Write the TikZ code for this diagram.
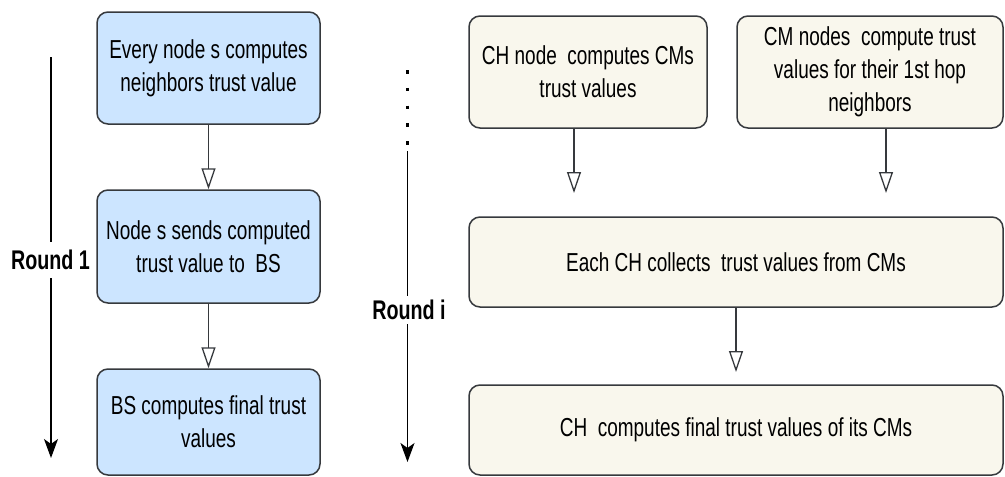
\documentclass[tikz,border=0pt]{standalone}
\usepackage{fontspec}
\setmainfont{Liberation Sans}[FakeStretch=0.73]
\usetikzlibrary{arrows.meta}
\definecolor{bluefill}{HTML}{CCE5FF}
\definecolor{creamfill}{HTML}{F9F7ED}
\definecolor{edgegray}{HTML}{36393D}
\begin{document}
\begin{tikzpicture}[x=1pt,y=-1pt,
  txt/.style={font=\fontsize{26}{33}\selectfont, align=center, text=black},
  lbox/.style={txt, draw=edgegray, line width=1.5pt, fill=bluefill, rounded corners=11pt, inner sep=0pt, minimum width=223pt},
  rbox/.style={lbox, fill=creamfill},
  conn/.style={draw=edgegray, line width=1.3pt, -{Triangle[open, length=21pt, width=14pt]}},
  roundarr/.style={draw=black, line width=1.3pt, -{Stealth[length=19pt, width=14pt, inset=5pt]}},
  roundlbl/.style={font=\fontsize{27}{33}\selectfont\bfseries, fill=white, inner xsep=1pt}
]
\useasboundingbox (0,0) rectangle (1005,477);

% left column
\node[lbox, minimum height=112pt] (l1) at (208.5,68) {Every node s computes\\neighbors trust value};
\node[lbox, minimum height=113pt] (l2) at (208.5,246.5) {Node s sends computed\\trust value to~~BS};
\node[lbox, minimum height=106pt] (l3) at (208.5,422) {BS computes final trust\\values};
\draw[conn] (l1.south) -- (l2.north);
\draw[conn] (l2.south) -- (l3.north);

% round 1 arrow
\coordinate (r1a) at (51,57);
\coordinate (r1b) at (51,458);
\draw[roundarr] (r1a) -- (r1b);
\node[roundlbl, inner ysep=8pt] (r1) at (50.5,260) {Round 1};

% right part
\node[rbox, minimum width=238pt, minimum height=112pt] (ch) at (588,72) {CH node~~computes CMs\\trust values};
\node[rbox, minimum width=266pt, minimum height=112pt] (cm) at (870,72) {CM nodes~~compute trust\\values for their 1st hop\\neighbors};
\node[rbox, minimum width=534pt, minimum height=90pt] (col) at (736,262) {Each CH collects~~trust values from CMs};
\node[rbox, minimum width=534pt, minimum height=90pt] (fin) at (736,430) {CH~~computes final trust values of its CMs};

\coordinate (t1) at (574,193);
\coordinate (t2) at (886,193);
\coordinate (t3) at (736,372);
\draw[conn] (t1 |- ch.south) -- (t1);
\draw[conn] (t2 |- cm.south) -- (t2);
\draw[conn] (col.south) -- (t3);

% round i arrow
\coordinate (d1) at (407.5,70);
\coordinate (d2) at (407.5,146);
\draw[line width=3.5pt, dash pattern=on 3.5pt off 14.25pt] (d1) -- (d2);
\coordinate (r2a) at (407.5,151);
\coordinate (r2b) at (407.5,462);
\draw[roundarr] (r2a) -- (r2b);
\node[roundlbl, inner ysep=4pt] (r2) at (409,310) {Round i};
\end{tikzpicture}
\end{document}
